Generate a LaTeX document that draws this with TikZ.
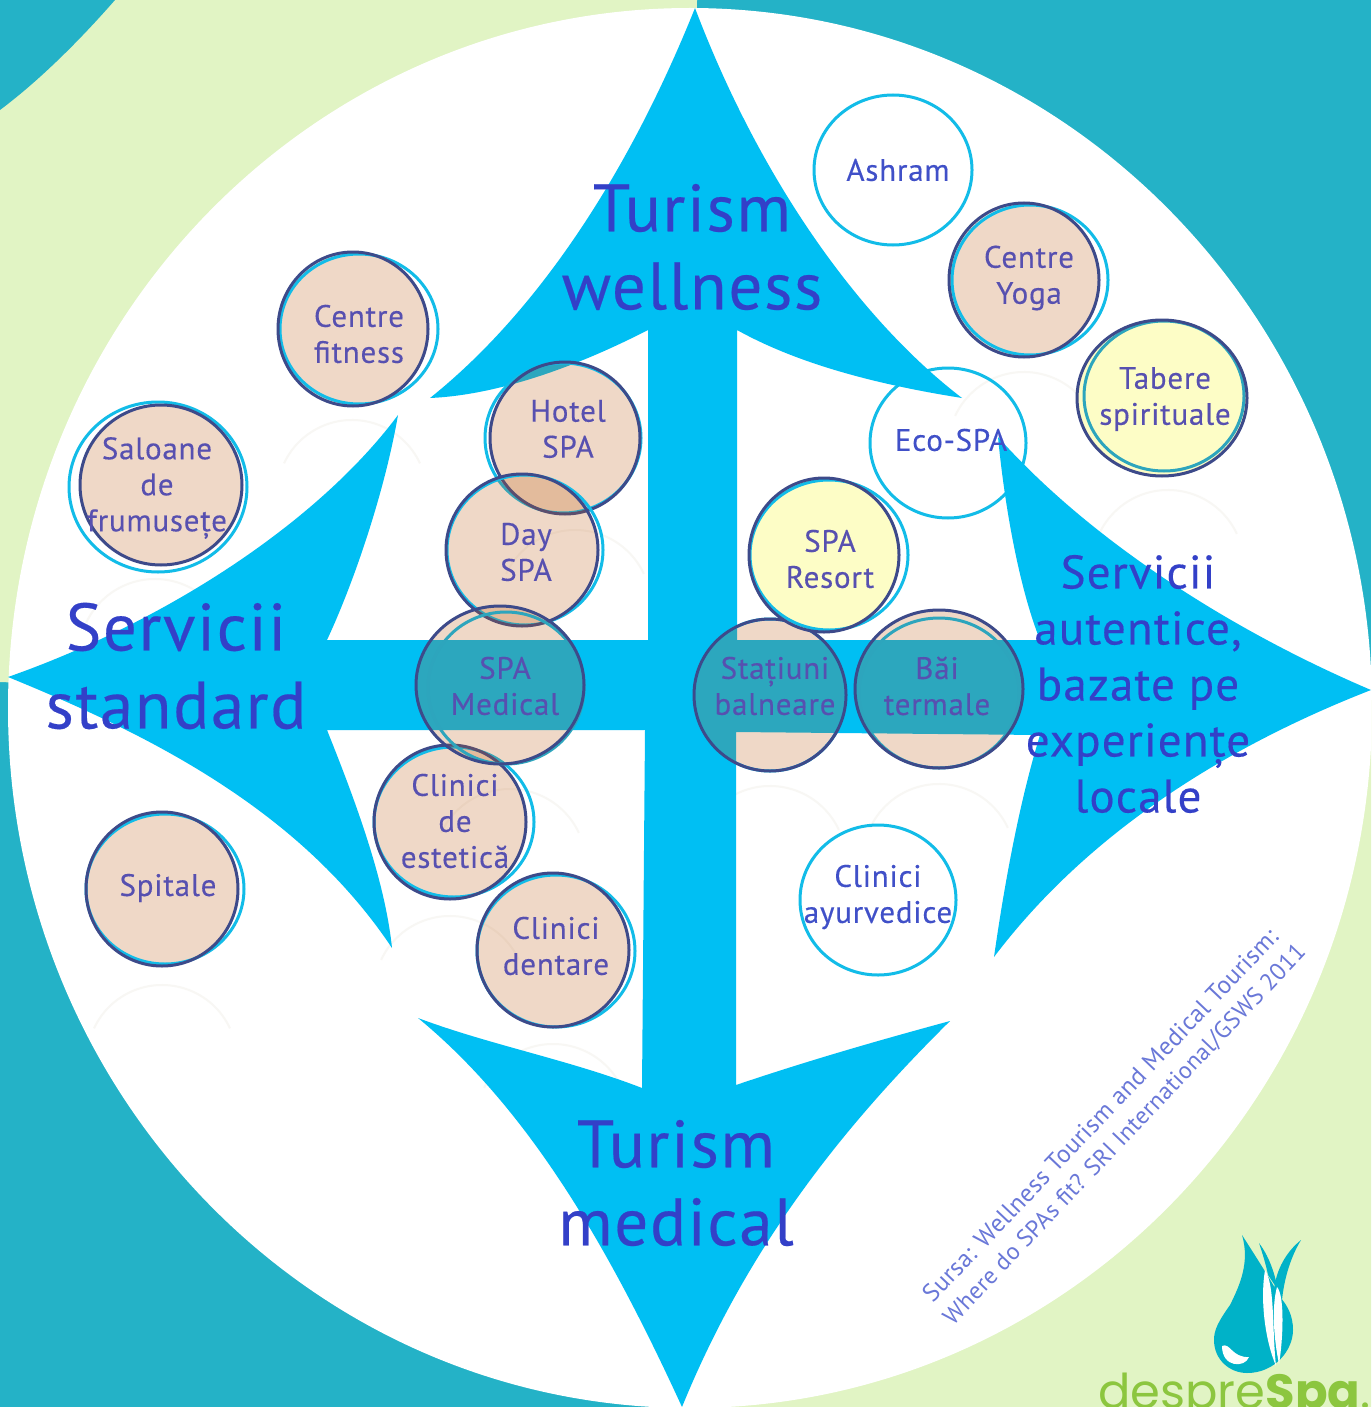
\documentclass[tikz,border=0pt]{standalone}
\usepackage{fontspec}
\setmainfont[LetterSpace=2.5,FakeBold=0.3]{PT Sans}
\newfontfamily\srcfont[LetterSpace=1.5]{PT Sans}
\newfontfamily\logofont{Poppins}
\definecolor{teal}{HTML}{24B2C7}
\definecolor{lgreen}{HTML}{E1F4C4}
\definecolor{sky}{HTML}{00BFF3}
\definecolor{cyanring}{HTML}{12BCE8}
\definecolor{tealring}{HTML}{2DA5BD}
\definecolor{navy}{HTML}{3D4A8A}
\definecolor{peachbase}{HTML}{BF5D14}
\definecolor{lemon}{HTML}{FDFDC6}
\definecolor{titlecol}{HTML}{3340C8}
\definecolor{labelcol}{HTML}{5750B0}
\definecolor{whitelab}{HTML}{4050C8}
\definecolor{srccol}{HTML}{6A78D8}
\definecolor{ghost}{HTML}{F8F7F4}
\definecolor{drop}{HTML}{00B2C8}
\definecolor{logogreen}{HTML}{8CC63F}
\colorlet{ringnow}{cyanring}
\tikzset{
 bigtitle/.style={text=titlecol,font=\fontsize{67}{78}\selectfont,align=center,inner sep=0pt},
 righttitle/.style={text=titlecol,font=\fontsize{47}{56}\selectfont,align=center,inner sep=0pt},
 bublabel/.style={text=labelcol,font=\fontsize{31}{36}\selectfont,align=center,inner sep=0pt},
 openlabel/.style={text=whitelab,font=\fontsize{31}{36}\selectfont,align=center,inner sep=0pt},
 srctext/.style={text=srccol,font=\srcfont\fontsize{25}{28}\selectfont,rotate=46.5,inner sep=0pt},
 ring/.style={draw=ringnow,line width=3pt},
 dark/.style={draw=navy,line width=3pt},
 ghostarc/.style={draw=ghost,line width=2pt},
 peachfill/.style={fill=peachbase,fill opacity=.235},
 lemonfill/.style={fill=lemon}
}
% bubble: dark centre x,y, rx, ry, ring centre x,y, rx, ry, fill style
\newcommand{\bubble}[9]{%
 \fill[#9] (#1,#2) ellipse [x radius=#3pt,y radius=#4pt];
 \draw[ring] (#5,#6) ellipse [x radius=#7pt,y radius=#8pt];
 \draw[dark] (#1,#2) ellipse [x radius=#3pt,y radius=#4pt];
}
\newcommand{\ghostring}[3]{%
 \draw[ghostarc] (#1,#2) ++(25:#3pt) arc [start angle=25,end angle=155,radius=#3pt];
}
\begin{document}
\begin{tikzpicture}[x=1pt,y=-1pt]
\useasboundingbox (0,0) rectangle (1371,1407);
\begin{scope}
\clip (0,0) rectangle (1371,1407);
\fill[teal] (0,0) rectangle (1371,1407);
% green quadrants
\fill[lgreen] (0,0) -- (697,0) -- (690,708) -- (0,682) -- cycle;
\fill[lgreen] (1371,700) -- (690,708) -- (690,1407) -- (1371,1407) -- cycle;
\fill[teal] (0,0) -- (115,0) .. controls (80,40) and (40,80) .. (0,110) -- cycle;
% white disc
\fill[white] (690,708) ellipse [x radius=682pt,y radius=700pt];
% faint reflections
\ghostring{352}{495}{75}
\ghostring{155}{655}{76}
\ghostring{162}{1060}{75}
\ghostring{553}{1120}{76}
\ghostring{450}{992}{76}
\ghostring{575}{606}{76}
\ghostring{510}{865}{76}
\ghostring{770}{862}{76}
\ghostring{939}{860}{76}
\ghostring{1024}{448}{76}
\ghostring{1168}{566}{76}
% open rings below the arrows
\draw[ring] (893,170) ellipse [x radius=79pt,y radius=75pt];
\draw[ring] (948,443) ellipse [x radius=78pt,y radius=75pt];
\draw[ring] (878,900) ellipse [x radius=78pt,y radius=75pt];
% four-way arrow
\fill[sky] (695,8)
 .. controls (760,180) and (860,320) .. (962,398)
 .. controls (880,385) and (800,365) .. (737,330)
 -- (737,640) -- (1040,640)
 .. controls (1020,590) and (1005,510) .. (998,437)
 .. controls (1090,540) and (1230,630) .. (1371,690)
 .. controls (1230,745) and (1090,830) .. (994,957)
 .. controls (1005,880) and (1020,800) .. (1040,735)
 -- (736,732) -- (736,1085)
 .. controls (810,1060) and (880,1040) .. (950,1021)
 .. controls (850,1120) and (750,1240) .. (682,1407)
 .. controls (610,1250) and (530,1110) .. (418,1018)
 .. controls (490,1045) and (570,1060) .. (642,1088)
 -- (645,730) -- (327,730)
 .. controls (355,800) and (385,880) .. (392,948)
 .. controls (300,810) and (150,735) .. (8,677)
 .. controls (170,620) and (320,520) .. (398,415)
 .. controls (385,490) and (355,580) .. (327,640)
 -- (648,640) -- (648,330)
 .. controls (580,365) and (500,395) .. (430,398)
 .. controls (540,310) and (630,170) .. (695,8) -- cycle;
% bubbles
\bubble{353}{329}{75}{77}{359}{329}{79}{75}{peachfill}
\bubble{161}{485}{81}{80}{158}{487}{89}{85}{peachfill}
\bubble{565}{438}{75}{76}{563}{438}{78}{75}{peachfill}
\bubble{522}{550}{76}{76}{525}{550}{78}{75}{peachfill}
\bubble{450}{822}{76}{77}{454}{822}{80}{75}{peachfill}
\bubble{553}{950}{76}{77}{556}{951}{79}{76}{peachfill}
\bubble{162}{889}{76}{77}{165}{889}{79}{75}{peachfill}
\bubble{770}{695}{76}{76}{770}{695}{76}{76}{peachfill}
\bubble{1024}{280}{75}{77}{1030}{280}{78}{75}{peachfill}
\bubble{824}{555}{75}{77}{829}{555}{79}{75}{lemonfill}
\colorlet{ringnow}{tealring}
\bubble{500}{685}{84}{79}{506}{688}{78}{76}{peachfill}
\bubble{939}{689}{84}{79}{939}{693}{80}{75}{peachfill}
\bubble{1162}{398}{85}{78}{1164}{396}{80}{75}{lemonfill}
% titles
\node[bigtitle] (tw) at (692,247) {Turism\\wellness};
\node[bigtitle] (ss) at (176,666) {Servicii\\standard};
\node[bigtitle] (tm) at (676,1183) {Turism\\medical};
\node[righttitle] (sa) at (1138,684) {Servicii\\autentice,\\bazate pe\\experiențe\\locale};
% labels
\node[openlabel] (ashram) at (898,170) {Ashram};
\node[openlabel] (ecospa) at (951,440) {Eco-SPA};
\node[openlabel] (ayur) at (878,897) {Clinici\\ayurvedice};
\node[bublabel] (yoga) at (1029,278) {Centre\\Yoga};
\node[bublabel] (tabere) at (1165,399) {Tabere\\spirituale};
\node[bublabel] (resort) at (830,559) {SPA\\Resort};
\node[bublabel] (statiuni) at (775,686) {Stațiuni\\balneare};
\node[bublabel] (bai) at (937,686) {Băi\\termale};
\node[bublabel] (medical) at (505,686) {SPA\\Medical};
\node[bublabel] (estetica) at (455,821) {Clinici\\de\\estetică};
\node[bublabel] (dentare) at (556,946) {Clinici\\dentare};
\node[bublabel] (hotel) at (568,429) {Hotel\\SPA};
\node[bublabel] (day) at (526,552) {Day\\SPA};
\node[bublabel] (fitness) at (359,334) {Centre\\fitness};
\node[bublabel] (saloane) at (157,488) {Saloane\\de\\frumusețe};
\node[bublabel] (spitale) at (168,888) {Spitale};
% source
\node[srctext] (src1) at (1100,1115) {Sursa: Wellness Tourism and Medical Tourism:};
\node[srctext,font=\srcfont\fontsize{24}{28}\selectfont] (src2) at (1125,1135) {Where do SPAs fit? SRI International/GSWS 2011};
% logo
\fill[drop] (1242,1235) .. controls (1250,1262) and (1240,1285) .. (1230,1305)
 .. controls (1218,1322) and (1214,1330) .. (1214,1340)
 .. controls (1214,1360) and (1230,1373) .. (1247,1373)
 .. controls (1275,1373) and (1293,1350) .. (1293,1330)
 .. controls (1293,1315) and (1287,1305) .. (1280,1297)
 .. controls (1272,1282) and (1258,1260) .. (1242,1235) -- cycle;
\fill[drop] (1259,1243) .. controls (1268,1255) and (1274,1270) .. (1278,1290) -- (1268,1275) .. controls (1266,1265) and (1263,1255) .. (1259,1243) -- cycle;
\fill[drop] (1301,1240) .. controls (1286,1252) and (1276,1270) .. (1274,1290) -- (1282,1300) .. controls (1284,1280) and (1290,1258) .. (1301,1240) -- cycle;
\fill[white] (1265,1270) .. controls (1275,1285) and (1272,1330) .. (1276,1366) .. controls (1265,1340) and (1260,1300) .. (1265,1270) -- cycle;
\fill[white] (1277,1287) .. controls (1285,1296) and (1283,1340) .. (1279,1364) .. controls (1273,1335) and (1272,1305) .. (1277,1287) -- cycle;
\fill[white] (1222,1346) .. controls (1230,1342) and (1232,1358) .. (1249,1357) .. controls (1245,1368) and (1222,1368) .. (1222,1346) -- cycle;
\node[anchor=base west,inner sep=0pt,text=logogreen,font=\logofont\fontsize{48}{48}\selectfont] (logo) at (1098,1408) {despre{\bfseries Spa}.};
\end{scope}
\end{tikzpicture}
\end{document}
